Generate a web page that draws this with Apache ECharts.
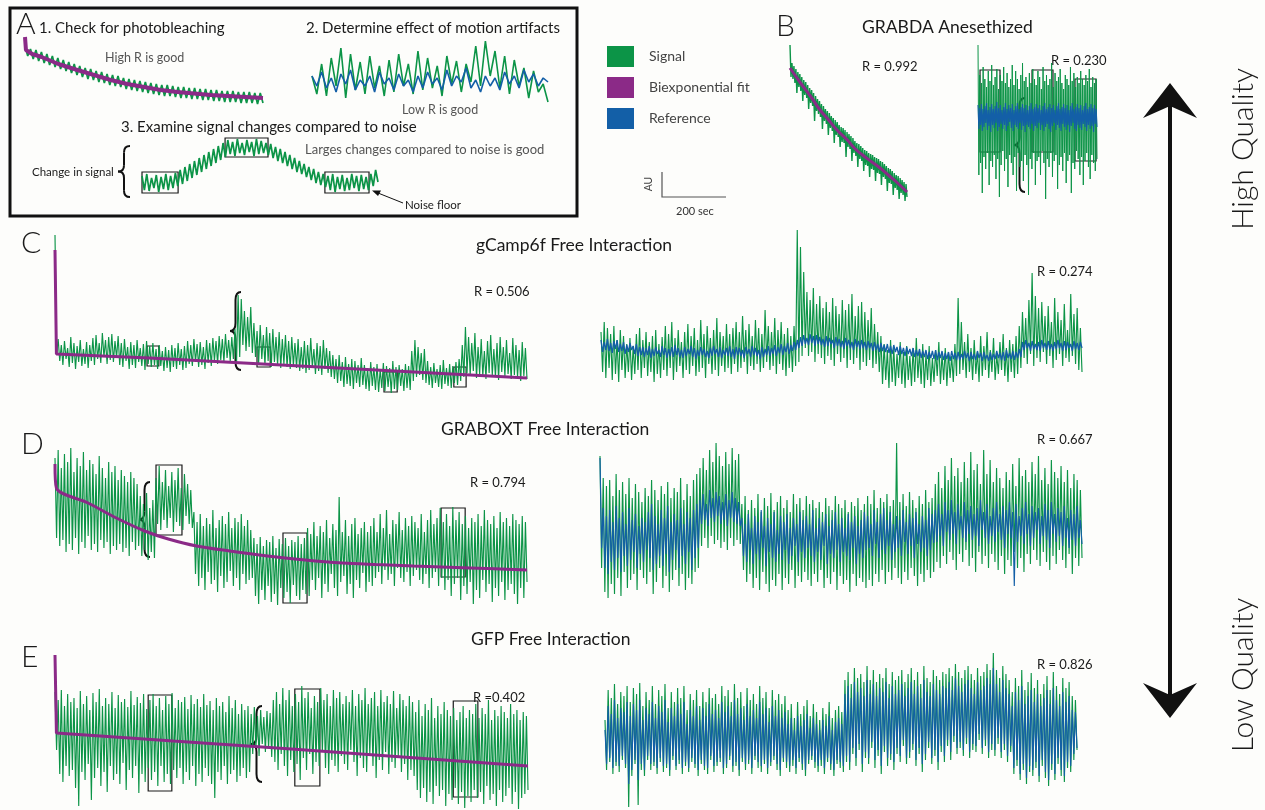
<!DOCTYPE html>
<html><head><meta charset="utf-8">
<script src="https://cdn.jsdelivr.net/npm/echarts@6/dist/echarts.min.js"></script>
<style>html,body{margin:0;padding:0;background:#fdfdfb;}#c{width:1265px;height:810px;}</style>
</head><body><div id="c"></div>
<script>
// ---------- DATA (values in arbitrary units) ----------
const seriesNames = ['Signal','Biexponential fit','Reference'];
// Panel A schematics
const a1Signal = [60,50,57,47,56,45,54,43,52,41,50,39,48,37,46,35,44,33,42,31,40,29,38,27,37,26,35,24,34,23,32,21,31,20,30,19,28,17,27,16,26,15,25,14,24,13,23,12,22,11,21,10,21,10,20,9,19,8,19,8,18,7,18,7,17,6,17,6,16,5,16,5,15,4,15,4,15,4,14,3,14,3,14,3,13,2,13,3];
const a1Fit = [[0,69],[0.4,56],[3,52],[7,49],[14,42],[22,36],[29,31],[36,26],[43,22],[50,19],[57,16],[64,14],[71,12.5],[78,11],[89,9.5],[100,8]];
const a2Signal = [30,12,42,10,48,20,58,8,52,16,44,12,50,18,40,10,46,14,52,20,42,12,55,16,48,18,40,10,50,22,45,14,42,24,60,20,65,30,55,18,50,12,46,20,38,8,35,14,22,4];
const a2Reference = [30,20,34,18,28,14,32,22,36,16,26,20,30,14,34,22,28,16,32,20,26,14,30,18,34,22,28,16,36,20,30,24,38,18,26,14,30,20,28,16,34,22,30,18,36,24,32,20,28,24];
const a3Signal = [20,6,22,5,18,8,21,4,19,7,22,6,20,8,23,10,26,12,29,15,32,18,35,21,38,24,41,27,44,30,47,33,50,36,53,39,56,42,54,40,57,43,53,41,56,44,54,40,57,42,55,43,53,41,52,38,49,35,47,33,44,30,41,27,38,24,35,22,32,19,29,16,27,13,24,11,22,9,20,6,22,4,19,7,21,5,18,6,22,8,20,5,21,7,19,6,22,10,26,14];
// Panel B: GRABDA anesthetized
const b1Signal = [160,128,142,126,139,122,136,112,133,118,131,114,128,104,125,110,123,107,120,96,117,102,115,99,112,84,109,94,106,91,104,88,101,76,99,84,96,81,94,70,92,77,89,74,87,62,85,70,83,68,80,58,78,63,77,62,75,48,73,58,71,56,69,44,67,52,64,49,62,38,61,46,59,44,57,34,55,40,54,39,52,28,51,36,50,35,48,24,47,32,46,31,44,20,43,28,41,26,39,14,37,22,36,21,34,10,32,17,30,15,29,6,27,12,25,10,23,4,21,8];
const b1Fit = [[0,137],[9,122],[18,108],[25,96],[33,85],[41,74],[49,65],[55,57],[62,50],[70,43],[77,37],[84,30],[91,23],[100,13]];
const b2Signal = [160,30,130,42,122,12,138,48,126,36,118,52,134,20,124,44,140,38,120,50,128,26,136,46,116,8,130,40,124,54,138,34,122,46,132,18,118,50,126,42,140,30,120,48,134,14,126,52,116,38,130,44,142,24,124,50,128,40,118,10,132,46,122,36,136,52,126,20,120,44,134,48,128,30,116,54,138,42,124,6,130,46,120,38,126,52,142,28,118,44,132,50,124,16,128,40,136,48,122,34,116,52,130,22,126,44,120,50,138,12,124,42,132,36,118,54,128,46,122,30,134,48,126,20,120,44,130,52,124,38,136,26,118,50,128,42,122,34,126,46];
const b2Reference = [100,76,97,80,101,74,96,78,99,82,102,75,95,79,98,73,101,80,96,77,99,82,103,74,97,78,100,81,95,76,98,80,102,74,96,79,100,83,97,77,101,74,95,80,99,78,102,76,96,82,98,75,101,79,97,73,100,80,95,78,99,76,102,81,96,74,98,79,101,77,97,82,100,75,95,80,99,74,102,78,96,81,98,76,101,73,97,79,100,82,95,75,99,80,102,77,96,74,98,81,101,78,97,75,100,80,95,73,99,79,102,82,96,76,98,74,101,80,97,77,100,75,95,81,99,78,102,74,96,80,98,76,101,79,97,73,100,81,96,78];
// Panel C: gCamp6f free interaction
const c1Signal = [160,40,56,34,50,30,54,36,47,28,58,32,52,26,49,33,55,29,46,31,53,27,50,34,57,30,60,36,52,32,62,38,55,31,58,35,61,33,54,37,59,30,52,28,56,34,48,26,53,30,50,27,55,33,47,29,51,25,54,31,49,28,52,30,46,26,50,29,44,24,48,27,45,23,50,28,47,26,52,30,46,25,49,27,54,31,50,29,56,33,51,28,53,30,48,26,55,32,52,29,57,34,54,31,59,35,56,33,61,37,55,34,58,36,66,32,100,38,96,50,84,44,78,48,88,42,72,38,64,32,70,36,60,30,68,34,62,28,66,33,58,30,63,27,56,31,60,28,54,26,58,29,52,27,56,24,48,26,54,22,50,25,57,28,46,21,52,24,49,20,55,26,47,22,44,18,40,16,36,12,40,14,33,8,38,11,31,9,36,6,34,12,30,8,37,10,30,6,27,4,33,9,28,5,31,3,26,7,32,4,29,8,27,2,34,6,28,5,30,9,26,4,31,7,29,5,44,14,55,18,48,20,42,15,46,12,34,10,28,7,32,12,26,8,30,6,35,11,27,9,31,7,29,12,33,10,36,14,50,18,68,22,58,20,52,24,62,17,48,21,56,19,44,16,54,22,60,20,46,18,52,15,58,23,48,19,55,21,42,16,57,20,50,18,45,14,53,19,47,16];
const c1Fit = [[0,145],[0.3,41],[10,39],[20,37],[30,34.5],[40,32],[50,29.5],[60,27],[70,24.5],[80,22],[90,19.5],[100,17]];
const c2Signal = [60,20,70,14,64,24,58,12,66,18,52,10,62,22,56,14,48,20,54,12,46,18,58,22,64,14,52,24,60,16,50,20,56,10,62,18,48,14,55,22,66,16,58,24,70,12,54,20,62,26,50,14,60,22,68,18,56,26,64,16,52,20,72,24,58,14,66,28,54,18,62,22,74,16,60,26,56,20,68,24,58,18,64,28,70,20,60,24,76,30,62,18,68,26,56,22,72,28,64,20,58,24,82,30,66,22,60,26,74,18,62,28,70,22,58,16,64,24,56,20,66,26,162,30,145,36,120,44,100,36,92,40,104,30,88,38,96,34,84,28,90,36,80,32,94,26,86,38,78,30,92,34,82,24,88,32,98,28,76,34,86,22,90,30,80,26,72,32,84,24,68,28,60,20,56,8,48,12,42,4,52,10,44,6,38,14,50,8,40,4,46,12,36,6,44,10,54,14,40,8,48,4,38,12,46,6,34,10,42,16,50,8,38,12,44,6,40,14,36,10,48,16,94,18,70,22,50,14,58,20,44,12,52,18,40,10,56,16,46,22,60,14,42,20,54,12,38,18,50,22,58,16,44,10,52,20,48,14,56,18,66,24,80,34,74,28,92,38,119,26,96,34,84,30,90,40,76,28,86,36,70,24,94,32,80,38,72,26,88,34,62,30,98,36,78,28,84,22,64,20];
const c2Reference = [52,40,50,42,53,41,49,39,51,43,52,40,48,41,50,38,47,40,49,42,46,38,48,36,45,37,45,35,44,37,46,34,43,36,45,38,42,35,46,37,44,34,43,36,45,35,47,37,44,35,42,34,45,36,43,38,46,35,44,33,42,36,45,37,43,35,41,34,44,36,46,38,43,35,45,34,42,37,44,36,46,35,43,33,45,37,44,36,42,34,45,38,43,35,46,37,44,36,42,33,45,35,43,37,46,36,44,38,47,36,45,39,48,37,46,40,49,38,47,41,50,42,52,44,55,46,57,48,54,47,58,49,56,46,57,48,55,47,53,45,56,46,54,48,52,44,55,46,53,45,51,43,54,46,52,44,50,42,53,45,51,43,52,44,50,42,51,44,49,41,50,42,48,40,49,41,47,40,48,39,46,38,47,40,45,37,46,38,44,36,45,38,43,36,44,35,42,36,43,34,41,35,42,33,40,34,41,33,42,32,40,34,41,32,39,33,40,31,41,33,39,32,40,32,38,33,41,34,39,31,40,33,38,32,41,34,39,31,40,33,37,31,40,32,38,33,41,34,39,32,40,31,42,34,39,33,41,32,40,34,43,35,50,42,52,44,49,41,51,43,48,42,50,41,52,44,49,42,51,43,48,41,50,43,52,44,49,41,51,42,50,44,48,41,51,43,49,42,50,44];
// Panel D: GRABOXT free interaction
const d1Signal = [150,70,158,62,140,68,154,56,146,64,160,58,136,70,150,54,142,66,156,60,138,72,148,58,144,64,134,56,152,68,140,60,130,66,146,54,136,62,142,58,128,64,138,56,132,60,126,52,136,66,130,58,124,62,112,52,104,58,115,48,100,56,108,50,130,84,142,78,126,88,138,80,122,90,136,76,128,86,140,82,120,78,134,92,124,84,118,80,96,34,86,22,94,30,82,18,90,36,84,24,98,28,80,16,88,32,92,20,84,26,96,37,80,22,90,30,86,18,94,34,82,24,88,28,78,30,70,12,64,4,71,18,62,8,68,22,66,6,72,14,60,3,69,20,64,10,70,16,62,5,68,23,66,12,72,8,64,18,70,14,80,12,74,28,86,18,72,30,82,10,76,24,88,16,70,34,84,20,78,12,111,26,76,32,88,14,72,24,84,10,90,28,74,20,80,35,86,16,76,26,82,22,90,30,76,36,94,24,80,38,98,28,74,34,88,22,84,40,96,30,78,26,90,36,82,22,92,32,86,38,80,28,94,24,76,34,88,20,98,30,84,36,90,22,100,30,86,18,94,28,82,12,101,24,88,30,96,8,84,22,92,14,80,26,90,4,86,18,94,10,82,28,98,16,88,24,84,6,92,20,80,12,96,26,86,8,90,18,82,24,94,14,88,4,84,20,92,10,86,26];
const d1Fit = [[0,144],[0.3,120],[7,105],[13,90],[19,77],[24,69],[30,62],[37,57],[45,52],[53,48],[61,45],[68,43.5],[76,42],[88,40],[100,38]];
const d2Signal = [152,40,130,16,122,10,128,24,112,14,134,30,118,12,126,36,114,20,130,28,110,34,124,18,116,38,106,30,120,24,112,36,128,14,118,26,108,40,122,20,114,32,126,16,110,28,120,38,116,22,130,34,108,18,124,30,112,24,128,36,134,40,140,62,150,70,138,60,158,72,146,64,165,68,152,60,142,66,156,58,144,70,160,62,148,68,154,64,104,38,112,26,98,34,108,20,100,30,114,18,96,36,110,24,102,16,115,28,98,22,106,34,112,18,100,30,108,24,96,38,114,20,104,32,110,26,98,36,112,28,104,22,108,34,100,26,106,38,96,20,110,30,102,24,98,36,112,18,104,32,100,24,108,28,96,16,106,34,102,22,110,30,98,26,104,20,112,28,104,22,118,34,100,26,110,38,106,24,114,36,102,28,108,40,165,30,106,24,114,36,102,28,116,40,108,32,100,22,112,34,104,26,118,38,106,30,110,36,124,46,136,40,120,52,142,44,128,56,150,48,132,38,140,54,126,46,146,58,130,42,156,50,138,36,144,56,124,44,158,52,134,40,148,54,126,46,140,38,130,52,120,34,136,48,128,42,144,56,122,40,150,50,132,36,138,54,126,44,146,58,134,48,152,42,128,56,140,46,124,38,148,52,136,44,130,58,142,48,126,40,138,54,120,34,134,50,128,42,118,50];
const d2Reference = [150,60,100,40,92,34,98,46,86,38,102,50,90,36,96,52,84,42,100,48,88,56,94,40,82,54,90,46,86,58,96,50,104,38,92,44,84,52,98,42,90,54,102,36,86,48,94,58,88,40,100,52,84,44,96,56,90,38,98,50,104,60,108,84,114,88,104,82,118,90,110,86,116,92,112,84,106,88,114,82,108,90,116,86,110,84,106,82,90,52,84,46,94,58,80,44,92,54,86,48,98,60,82,42,90,56,84,50,96,46,78,54,92,48,86,58,94,44,80,52,90,62,84,46,96,56,88,50,92,60,84,52,98,46,80,56,90,48,86,62,94,44,82,54,88,50,96,58,84,46,90,56,80,52,94,48,86,60,92,44,82,54,88,50,96,58,92,60,84,52,98,64,86,50,94,58,100,54,88,62,96,48,84,56,92,60,88,52,98,66,86,54,94,62,90,50,96,64,84,56,92,60,88,52,100,58,94,65,98,66,104,72,94,62,106,76,98,68,108,74,96,64,104,78,92,70,106,66,98,74,102,68,94,72,100,62,108,78,96,70,104,64,92,72,100,66,106,76,94,68,102,60,98,74,106,70,96,22,104,66,92,72,100,64,106,74,94,62,102,70,96,78,100,64,92,72,104,68,98,60,106,74,94,66,100,72,96,62,102,70,90,60,98,68,94,62,102,70,88,64];
// Panel E: GFP free interaction
const e1Signal = [118,60,110,36,120,28,104,44,116,34,108,40,112,22,102,4,119,38,106,30,114,46,100,10,117,32,108,42,121,24,104,38,112,18,106,44,118,30,102,36,115,26,108,47,111,20,103,40,119,32,105,44,113,17,107,36,116,28,101,42,110,30,116,38,104,24,112,44,100,28,114,36,106,26,117,40,102,32,110,42,108,26,113,38,101,30,115,44,106,24,111,36,103,28,116,42,105,34,109,26,100,12,112,38,104,30,108,44,98,26,114,36,102,40,110,28,96,34,106,42,100,32,104,38,96,56,103,62,94,54,100,66,93,58,99,62,97,53,110,48,118,40,106,56,122,44,110,34,120,50,104,38,116,46,108,30,124,52,112,40,118,56,102,36,114,48,108,44,122,58,110,42,116,36,104,50,120,44,112,38,118,54,106,46,114,40,108,60,120,48,104,34,116,52,110,42,122,38,106,56,112,44,118,32,104,50,120,40,108,58,114,36,106,48,119,42,102,54,116,38,110,46,104,30,114,40,108,34,98,20,110,12,94,22,106,8,100,18,112,6,92,24,104,14,96,20,108,4,100,16,94,10,102,22,90,6,98,18,104,2,92,14,100,8,96,20,106,12,92,18,102,6,96,24,110,10,90,16,100,4,94,20,104,8,98,14,92,22,106,6,96,18,100,1,90,12,98,16,94,20];
const e1Fit = [[0,155],[0.3,77],[25,69],[50,61],[75,52.5],[100,44]];
const e2Signal = [90,40,120,48,112,36,126,44,106,38,118,50,114,42,124,3,108,34,122,46,116,5,127,40,104,34,118,50,110,40,124,44,106,36,120,48,114,38,126,42,102,34,118,50,108,40,122,46,112,36,124,44,100,38,116,48,110,42,120,34,104,46,118,40,108,36,122,50,112,38,116,44,106,48,124,36,114,42,120,50,108,38,126,44,112,34,118,48,104,40,122,46,110,36,116,50,106,42,124,38,112,46,118,36,102,44,120,50,110,40,116,34,106,48,114,42,100,38,106,44,92,36,108,48,96,40,104,34,110,46,94,50,106,42,98,38,90,44,102,36,96,48,108,40,92,34,100,46,104,42,98,38,130,48,138,40,126,56,142,44,132,60,136,38,128,52,144,46,130,62,140,42,128,54,136,36,132,58,142,44,126,50,138,40,130,56,134,48,140,64,128,46,136,52,142,60,130,44,138,56,126,38,144,50,132,62,128,46,140,54,134,40,130,58,138,48,136,64,142,50,134,68,146,56,138,62,132,54,140,66,144,52,136,60,130,58,142,70,134,56,138,64,146,52,140,60,157,54,140,66,132,52,144,60,136,48,130,58,118,36,132,44,124,30,140,40,120,26,128,38,137,34,122,42,130,28,116,44,126,32,134,24,120,40,138,30,124,46,116,34,132,28,122,42,128,38,114,50,110,60];
const e2Reference = [80,46,104,52,96,42,110,48,92,44,102,54,98,46,108,26,94,40,106,50,100,30,110,46,90,40,102,54,96,46,108,48,92,42,104,52,98,44,110,46,88,40,102,54,94,44,106,50,96,42,108,48,86,42,100,52,94,46,104,40,90,50,102,44,94,42,106,54,96,44,100,48,92,52,108,42,98,46,104,54,94,44,110,48,96,40,102,52,90,46,106,50,94,42,100,54,92,48,108,44,96,50,102,42,88,48,104,54,94,46,100,40,92,52,98,48,86,44,92,50,80,42,94,52,84,46,90,40,96,50,82,54,92,48,86,44,80,50,90,42,84,52,94,46,80,40,88,50,92,48,86,44,116,54,124,48,112,62,128,52,118,66,122,46,114,58,130,52,116,68,126,50,114,60,122,44,118,64,128,52,112,56,124,48,116,62,120,54,126,70,114,52,122,58,128,66,116,50,124,62,112,46,130,56,118,68,114,52,126,60,120,48,116,64,124,54,122,70,128,58,120,74,132,62,124,68,118,60,126,72,130,58,122,66,116,64,128,76,120,62,124,70,132,58,126,66,142,60,126,72,118,58,130,66,122,54,116,64,104,42,118,50,110,36,124,46,106,32,114,44,120,40,108,48,116,34,104,50,112,38,120,30,106,46,122,36,110,52,104,40,118,34,108,48,114,44,100,56,98,62];
// annotation boxes [x0,x1,y0,y1] in each trace's own units
const a3Boxes = [[0,15.3,3,24],[35.2,53.4,39,58],[77.5,96.2,3,24]];
const b2Boxes = [[1.7,18.5,53,135],[45.4,63,53,135],[81.5,99.2,44,126]];
const c1Boxes = [[19.5,22.0,29,49],[42.8,45.6,28,48],[69.7,72.5,3,23],[84.5,87.1,8,28]];
const d1Boxes = [[21.4,26.9,73,143],[48.3,53.4,5,75],[81.8,86.9,31,100]];
const e1Boxes = [[19.7,24.7,19,115],[50.7,56.0,24,121],[84.2,89.4,13,109]];

// ---------- CHART ----------
const GREEN = '#0c9447', PURPLE = '#8b2a87', BLUE = '#135fa7';
const FONT = 'Lato, "Open Sans", sans-serif';
const grids = [
  {id:'A1', left:25, top:36, width:238, height:70},
  {id:'A2', left:312, top:38, width:236, height:68},
  {id:'A3', left:142, top:135, width:236, height:61},
  {id:'B1', left:790, top:45, width:117, height:160},
  {id:'B2', left:978, top:45, width:119, height:160},
  {id:'C1', left:55, top:233, width:472, height:162},
  {id:'C2', left:601, top:228, width:481, height:164},
  {id:'D1', left:55, top:440, width:472, height:168},
  {id:'D2', left:600, top:440, width:482, height:168},
  {id:'E1', left:55, top:640, width:473, height:170},
  {id:'E2', left:605, top:640, width:472, height:170}
];
const gi = id => grids.findIndex(g => g.id === id);
const even = arr => arr.map((v, i) => [i * 100 / (arr.length - 1), v]);
const boxArea = boxes => ({
  silent: true,
  itemStyle: {color: 'rgba(0,0,0,0)', borderColor: '#1a1a1a', borderWidth: 1.2},
  data: boxes.map(b => [{coord: [b[0], b[2]]}, {coord: [b[1], b[3]]}])
});
function line(name, grid, data, color, width, z, extra) {
  return Object.assign({
    name, type: 'line', xAxisIndex: gi(grid), yAxisIndex: gi(grid), data,
    showSymbol: false, symbol: 'none', silent: true, z: z || 2, clip: false,
    color, itemStyle: {color}, lineStyle: {color, width: width}
  }, extra || {});
}
const series = [
  line('Signal', 'A1', even(a1Signal), GREEN, 1.7, 2),
  line('Biexponential fit', 'A1', a1Fit, PURPLE, 4, 3),
  line('Signal', 'A2', even(a2Signal), GREEN, 1.6, 2),
  line('Reference', 'A2', even(a2Reference), BLUE, 1.6, 3),
  line('Signal', 'A3', even(a3Signal), GREEN, 1.7, 2, {markArea: boxArea(a3Boxes)}),
  line('Signal', 'B1', even(b1Signal), GREEN, 1.4, 2),
  line('Biexponential fit', 'B1', b1Fit, PURPLE, 3, 3, {smooth: true}),
  line('Signal', 'B2', even(b2Signal), GREEN, 1, 2),
  line('Reference', 'B2', even(b2Reference), BLUE, 1.1, 3, {markArea: boxArea(b2Boxes)}),
  line('Signal', 'C1', even(c1Signal), GREEN, 1.15, 2),
  line('Biexponential fit', 'C1', c1Fit, PURPLE, 3, 3, {markArea: boxArea(c1Boxes)}),
  line('Signal', 'C2', even(c2Signal), GREEN, 1.15, 2),
  line('Reference', 'C2', even(c2Reference), BLUE, 1.3, 3),
  line('Signal', 'D1', even(d1Signal), GREEN, 1.15, 2),
  line('Biexponential fit', 'D1', d1Fit, PURPLE, 3, 3, {smooth: 0.3, markArea: boxArea(d1Boxes)}),
  line('Signal', 'D2', even(d2Signal), GREEN, 1.15, 2),
  line('Reference', 'D2', even(d2Reference), BLUE, 1.15, 3),
  line('Signal', 'E1', even(e1Signal), GREEN, 1.15, 2),
  line('Biexponential fit', 'E1', e1Fit, PURPLE, 3, 3, {markArea: boxArea(e1Boxes)}),
  line('Signal', 'E2', even(e2Signal), GREEN, 1.15, 2),
  line('Reference', 'E2', even(e2Reference), BLUE, 1.15, 3)
];

// curly brace "{" built from bezier curves and lines
function braceEl(xl, xr, y1, y2) {
  const xm = (xl + xr) / 2, m = (y1 + y2) / 2, r = Math.min(8, (y2 - y1) / 8);
  const st = {stroke: '#111', lineWidth: 2, fill: null};
  return {type: 'group', silent: true, children: [
    {type: 'bezierCurve', shape: {x1: xr, y1: y1, cpx1: xm, cpy1: y1, x2: xm, y2: y1 + r}, style: st},
    {type: 'line', shape: {x1: xm, y1: y1 + r, x2: xm, y2: m - r}, style: st},
    {type: 'bezierCurve', shape: {x1: xm, y1: m - r, cpx1: xm, cpy1: m, x2: xl, y2: m}, style: st},
    {type: 'bezierCurve', shape: {x1: xl, y1: m, cpx1: xm, cpy1: m, x2: xm, y2: m + r}, style: st},
    {type: 'line', shape: {x1: xm, y1: m + r, x2: xm, y2: y2 - r}, style: st},
    {type: 'bezierCurve', shape: {x1: xm, y1: y2 - r, cpx1: xm, cpy1: y2, x2: xr, y2: y2}, style: st}
  ]};
}
const T = (text, x, y, size, opts) => Object.assign({
  type: 'text', x, y, silent: true,
  style: Object.assign({text, font: `${(opts && opts.weight) || 400} ${size}px ${FONT}`, fill: (opts && opts.fill) || '#1a1a1a', textVerticalAlign: 'middle'}, (opts && opts.style) || {})
}, (opts && opts.el) || {});

const graphics = [
  {type: 'rect', shape: {x: 10, y: 8, width: 567, height: 208}, style: {stroke: '#111', lineWidth: 3, fill: null}, silent: true},
  T('A', 16, 24, 30, {weight: 300}),
  T('1. Check for photobleaching', 39, 28, 15),
  T('2. Determine effect of motion artifacts', 306, 28, 15),
  T('High R is good', 105, 58, 12.5, {fill: '#555'}),
  T('Low R is good', 402, 110, 12.5, {fill: '#555'}),
  T('3. Examine signal changes compared to noise', 121, 127, 15),
  T('Larges changes compared to noise is good', 305, 150, 13, {fill: '#555'}),
  T('Change in signal', 32, 172, 11.5),
  braceEl(118, 130, 146, 197),
  T('Noise floor', 405, 205, 11.5),
  {type: 'line', shape: {x1: 403, y1: 203, x2: 378, y2: 193}, style: {stroke: '#111', lineWidth: 1}, silent: true},
  {type: 'polygon', shape: {points: [[372, 190.5], [381, 190.5], [378, 196]]}, style: {fill: '#111'}, silent: true},
  // scale bar
  {type: 'polyline', shape: {points: [[662, 172], [662, 197], [726, 197]]}, style: {stroke: '#555', lineWidth: 1.2, fill: null}, silent: true},
  T('AU', 649, 184, 10.5, {fill: '#444', style: {textAlign: 'center'}, el: {rotation: Math.PI / 2}}),
  T('200 sec', 676, 211, 11, {fill: '#333'}),
  // panel B
  T('B', 776, 26, 30, {weight: 300}),
  T('GRABDA Anesethized', 862, 27, 17.5),
  T('R = 0.992', 862, 67, 13),
  T('R = 0.230', 1051, 61, 13),
  braceEl(1014, 1025, 98, 192),
  // panel C
  T('C', 21, 243, 30, {weight: 300}),
  T('gCamp6f Free Interaction', 476, 245, 17.5),
  T('R = 0.506', 474, 292, 13),
  T('R = 0.274', 1037, 272, 13),
  braceEl(230, 241, 292, 370),
  // panel D
  T('D', 21, 444, 30, {weight: 300}),
  T('GRABOXT Free Interaction', 441, 429, 17.5),
  T('R = 0.794', 470, 483, 13),
  T('R = 0.667', 1037, 440, 13),
  braceEl(139, 150, 482, 557),
  // panel E
  T('E', 21, 657, 30, {weight: 300}),
  T('GFP Free Interaction', 471, 639, 17.5),
  T('R =0.402', 473, 698, 13),
  T('R = 0.826', 1037, 665, 13),
  braceEl(251, 262, 706, 782),
  // quality arrow
  {type: 'line', shape: {x1: 1170, y1: 105, x2: 1170, y2: 696}, style: {stroke: '#111', lineWidth: 4}, silent: true},
  {type: 'polygon', shape: {points: [[1170, 83], [1197, 118], [1170, 106], [1143, 118]]}, style: {fill: '#111'}, silent: true},
  {type: 'polygon', shape: {points: [[1170, 718], [1197, 683], [1170, 695], [1143, 683]]}, style: {fill: '#111'}, silent: true},
  T('High Quality', 1243, 149, 30, {weight: 300, style: {textAlign: 'center'}, el: {rotation: Math.PI / 2}}),
  T('Low Quality', 1243, 675, 30, {weight: 300, style: {textAlign: 'center'}, el: {rotation: Math.PI / 2}})
];

const chart = echarts.init(document.getElementById('c'), null, {renderer: 'canvas'});
chart.setOption({
  backgroundColor: '#fdfdfb',
  animation: false,
  textStyle: {fontFamily: FONT},
  grid: grids.map(g => ({id: g.id, left: g.left, top: g.top, width: g.width, height: g.height, containLabel: false})),
  xAxis: grids.map((g, i) => ({type: 'value', gridIndex: i, min: 0, max: 100, show: false})),
  yAxis: grids.map((g, i) => ({type: 'value', gridIndex: i, min: 0, max: g.height, show: false})),
  legend: {
    data: seriesNames, orient: 'vertical', left: 602, top: 41, icon: 'rect',
    itemWidth: 27, itemHeight: 21, itemGap: 10, selectedMode: false,
    textStyle: {fontSize: 14, color: '#444', fontFamily: FONT, padding: [0, 0, 0, 10]}
  },
  series,
  graphic: {elements: graphics}
});
</script>
</body></html>
